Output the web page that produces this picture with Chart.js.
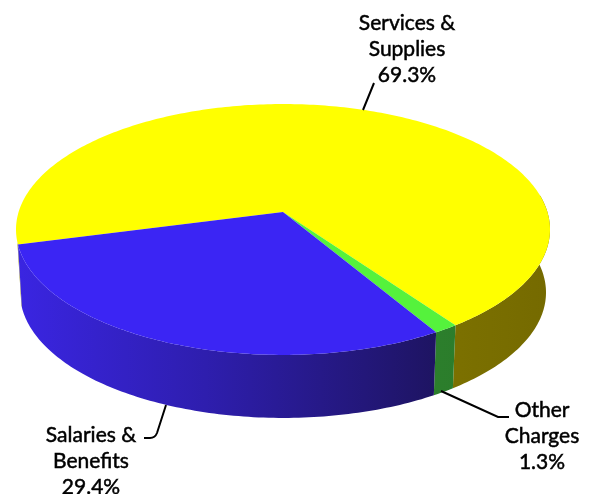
<!DOCTYPE html>
<html>
<head>
<meta charset="utf-8">
<script src="https://cdn.jsdelivr.net/npm/chart.js@4/dist/chart.umd.min.js"></script>
<style>
html, body { margin: 0; padding: 0; background: #ffffff; }
canvas { display: block; }
</style>
</head>
<body>
<canvas id="myChart" width="594" height="494"></canvas>
<script>
const categories = ['Services & Supplies', 'Other Charges', 'Salaries & Benefits'];
const seriesValues = [69.3, 1.3, 29.4];
const labelLines = [['Services &', 'Supplies', '69.3%'], ['Other', 'Charges', '1.3%'], ['Salaries &', 'Benefits', '29.4%']];
const topColors = ['#ffff00', '#55f23c', '#3b25f4'];
const sideColors = [
    [[0, '#7d7200'], [1, '#756a00']],
    [[0, '#2c7f2c'], [1, '#2a752a']],
    [[0, '#3a25e2'], [0.45, '#2e1eae'], [1, '#1e1462']]
];

// where the flat circle ends up on the page (perspective look)
const apexX = 283, apexY = 212;
const scaleU = 264.4, scaleV = 123, tilt = -0.1394;
const depth = 63;
const bottomShrink = 0.985;

function project(angle, r) {
    const u = Math.cos(angle) * r;
    const v = Math.sin(angle) * r;
    const w = 1 + tilt * v;
    return [apexX + scaleU * u / w, apexY + scaleV * v / w];
}

function arcPoints(start, end) {
    const pts = [];
    const steps = Math.max(4, Math.ceil((end - start) * 60));
    for (let i = 0; i <= steps; i++) {
        pts.push(project(start + (end - start) * i / steps, 1));
    }
    return pts;
}

function drawSide(ctx, arc, index) {
    // only the front of the rim is visible
    const frontStart = -0.14, frontEnd = 2.9;
    const two = Math.PI * 2;
    for (let turn = -1; turn <= 1; turn++) {
        const start = Math.max(arc.startAngle + turn * two, frontStart);
        const end = Math.min(arc.endAngle + turn * two, frontEnd);
        if (end <= start) continue;
        const pts = arcPoints(start, end);
        const grad = ctx.createLinearGradient(index === 2 ? 16 : 430, 0, index === 2 ? 436 : 550, 0);
        sideColors[index].forEach(s => grad.addColorStop(s[0], s[1]));
        ctx.beginPath();
        pts.forEach((p, i) => i ? ctx.lineTo(p[0], p[1]) : ctx.moveTo(p[0], p[1]));
        pts.slice().reverse().forEach(p => ctx.lineTo(apexX + (p[0] - apexX) * bottomShrink, p[1] + depth));
        ctx.closePath();
        ctx.fillStyle = grad;
        ctx.fill();
    }
}

function drawTop(ctx, arc, index) {
    const pts = arcPoints(arc.startAngle, arc.endAngle);
    ctx.beginPath();
    ctx.moveTo(apexX, apexY);
    pts.forEach(p => ctx.lineTo(p[0], p[1]));
    ctx.closePath();
    ctx.fillStyle = topColors[index];
    ctx.fill();
}

const pie3d = {
    id: 'pie3d',
    beforeDatasetDraw(chart, args) {
        const ctx = chart.ctx;
        const arcs = args.meta.data;
        ctx.save();
        arcs.forEach((arc, i) => drawSide(ctx, arc, i));
        arcs.forEach((arc, i) => drawTop(ctx, arc, i));
        ctx.restore();
        return false;
    },
    afterDraw(chart) {
        const ctx = chart.ctx;
        ctx.save();
        ctx.strokeStyle = '#000000';
        ctx.lineWidth = 2;
        ctx.beginPath();
        ctx.moveTo(363, 110); ctx.lineTo(374, 83);
        ctx.moveTo(441, 391); ctx.lineTo(498, 417); ctx.lineTo(509, 417);
        ctx.moveTo(166, 405); ctx.lineTo(157, 433); ctx.quadraticCurveTo(155, 438, 150, 438); ctx.lineTo(144, 438);
        ctx.stroke();

        ctx.fillStyle = '#000000';
        ctx.strokeStyle = '#000000';
        ctx.lineWidth = 0.5;
        ctx.font = '21px Lato';
        ctx.textAlign = 'center';
        ctx.textBaseline = 'alphabetic';
        const anchors = [[407, 30], [542, 417], [91, 442]];
        labelLines.forEach((lines, i) => {
            lines.forEach((line, j) => {
                ctx.fillText(line, anchors[i][0], anchors[i][1] + j * 26);
                ctx.strokeText(line, anchors[i][0], anchors[i][1] + j * 26);
            });
        });
        ctx.restore();
    }
};

new Chart(document.getElementById('myChart').getContext('2d'), {
    type: 'pie',
    data: {
        labels: categories,
        datasets: [{
            data: seriesValues,
            backgroundColor: topColors,
            borderWidth: 0
        }]
    },
    options: {
        responsive: false,
        animation: false,
        rotation: 255.2,
        plugins: {
            legend: { display: false },
            tooltip: { enabled: false }
        }
    },
    plugins: [pie3d]
});
</script>
</body>
</html>
